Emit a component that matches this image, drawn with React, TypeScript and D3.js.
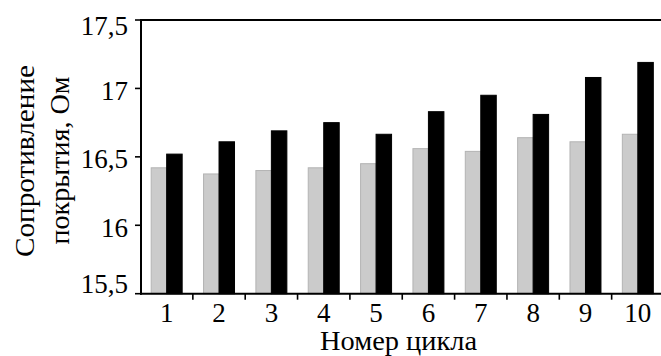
import React from 'react';
import * as d3 from 'd3';

const cycles = ['1', '2', '3', '4', '5', '6', '7', '8', '9', '10'];
const seriesGray = [16.42, 16.375, 16.4, 16.42, 16.45, 16.56, 16.54, 16.64, 16.61, 16.665];
const seriesBlack = [16.52, 16.61, 16.69, 16.75, 16.665, 16.83, 16.95, 16.81, 17.08, 17.19];
const yTicks = [15.5, 16, 16.5, 17, 17.5];
const seriesKeys = ['gray', 'black'];
const xTitle = 'Номер цикла';
const yTitleLines = ['Сопротивление', 'покрытия, Ом'];

const W = 661;
const H = 356;

export default function App() {
  const left = 141;
  const top = 20;
  const bottom = 293.7;
  const step = 52.35;

  const x = d3.scaleBand<string>().domain(cycles).range([left - 0.5, left - 0.5 + step * cycles.length]).paddingInner(0).paddingOuter(0);
  const xs = d3.scaleBand<string>().domain(seriesKeys).range([0, x.bandwidth()]).paddingInner(0).paddingOuter(0.69);
  const y = d3.scaleLinear().domain([15.5, 17.5]).range([bottom, top]);
  const fmt = (v: number) => d3.format('')(v).replace('.', ',');

  const boundaries = cycles.slice(1).map((c) => x(c) as number);

  return (
    <svg width={W} height={H} style={{ position: 'absolute', left: 0, top: 0, fontFamily: '"Times New Roman", "Liberation Serif", Tinos, serif' }}>
      <rect x={0} y={0} width={W} height={H} fill="#fff" />
      {cycles.map((c, i) => {
        const bx = x(c) as number;
        const gx = bx + (xs('gray') as number);
        const kx = bx + (xs('black') as number);
        const bw = xs.bandwidth();
        return (
          <g key={c}>
            <rect x={gx} y={y(seriesGray[i])} width={bw} height={bottom - y(seriesGray[i])} fill="#cbcbcb" stroke="#b3b3b3" strokeWidth={1} />
            <rect x={kx} y={y(seriesBlack[i])} width={bw} height={bottom - y(seriesBlack[i])} fill="#000" stroke="#000" strokeWidth={1} />
          </g>
        );
      })}
      <line x1={left} x2={W} y1={top} y2={top} stroke="#000" strokeWidth={2} />
      <line x1={left} x2={left} y1={top - 1} y2={bottom + 1} stroke="#000" strokeWidth={2} />
      <line x1={left - 1} x2={W} y1={bottom} y2={bottom} stroke="#000" strokeWidth={2} />
      {yTicks.map((t) => {
        const ty = y(t);
        const base = Math.min(Math.max(ty + 11.3, top + 15), bottom - 0.3);
        return (
          <g key={t}>
            <line x1={left - 6} x2={left} y1={ty} y2={ty} stroke="#000" strokeWidth={1.6} />
            <text x={128} y={base} textAnchor="end" fill="#000" style={{ fontFamily: '"Times New Roman"', fontSize: '27px' }}>{fmt(t)}</text>
          </g>
        );
      })}
      {boundaries.map((bx, i) => (
        <line key={i} x1={bx} x2={bx} y1={bottom} y2={bottom + 6} stroke="#000" strokeWidth={1.6} />
      ))}
      {cycles.map((c) => (
        <text key={c} x={(x(c) as number) + x.bandwidth() / 2} y={321.5} textAnchor="middle" fill="#000" style={{ fontFamily: '"Times New Roman"', fontSize: '27px' }}>{c}</text>
      ))}
      <text x={398.5} y={349.5} textAnchor="middle" fill="#000" style={{ fontFamily: '"Times New Roman"', fontSize: '27px' }} textLength={157} lengthAdjust="spacingAndGlyphs">{xTitle}</text>
      <text transform={`translate(34, 161) rotate(-90)`} textAnchor="middle" fill="#000" style={{ fontFamily: '"Times New Roman"', fontSize: '27px' }} textLength={192} lengthAdjust="spacingAndGlyphs">{yTitleLines[0]}</text>
      <text transform={`translate(68.5, 160.5) rotate(-90)`} textAnchor="middle" fill="#000" style={{ fontFamily: '"Times New Roman"', fontSize: '27px' }} textLength={168} lengthAdjust="spacingAndGlyphs">{yTitleLines[1]}</text>
    </svg>
  );
}
